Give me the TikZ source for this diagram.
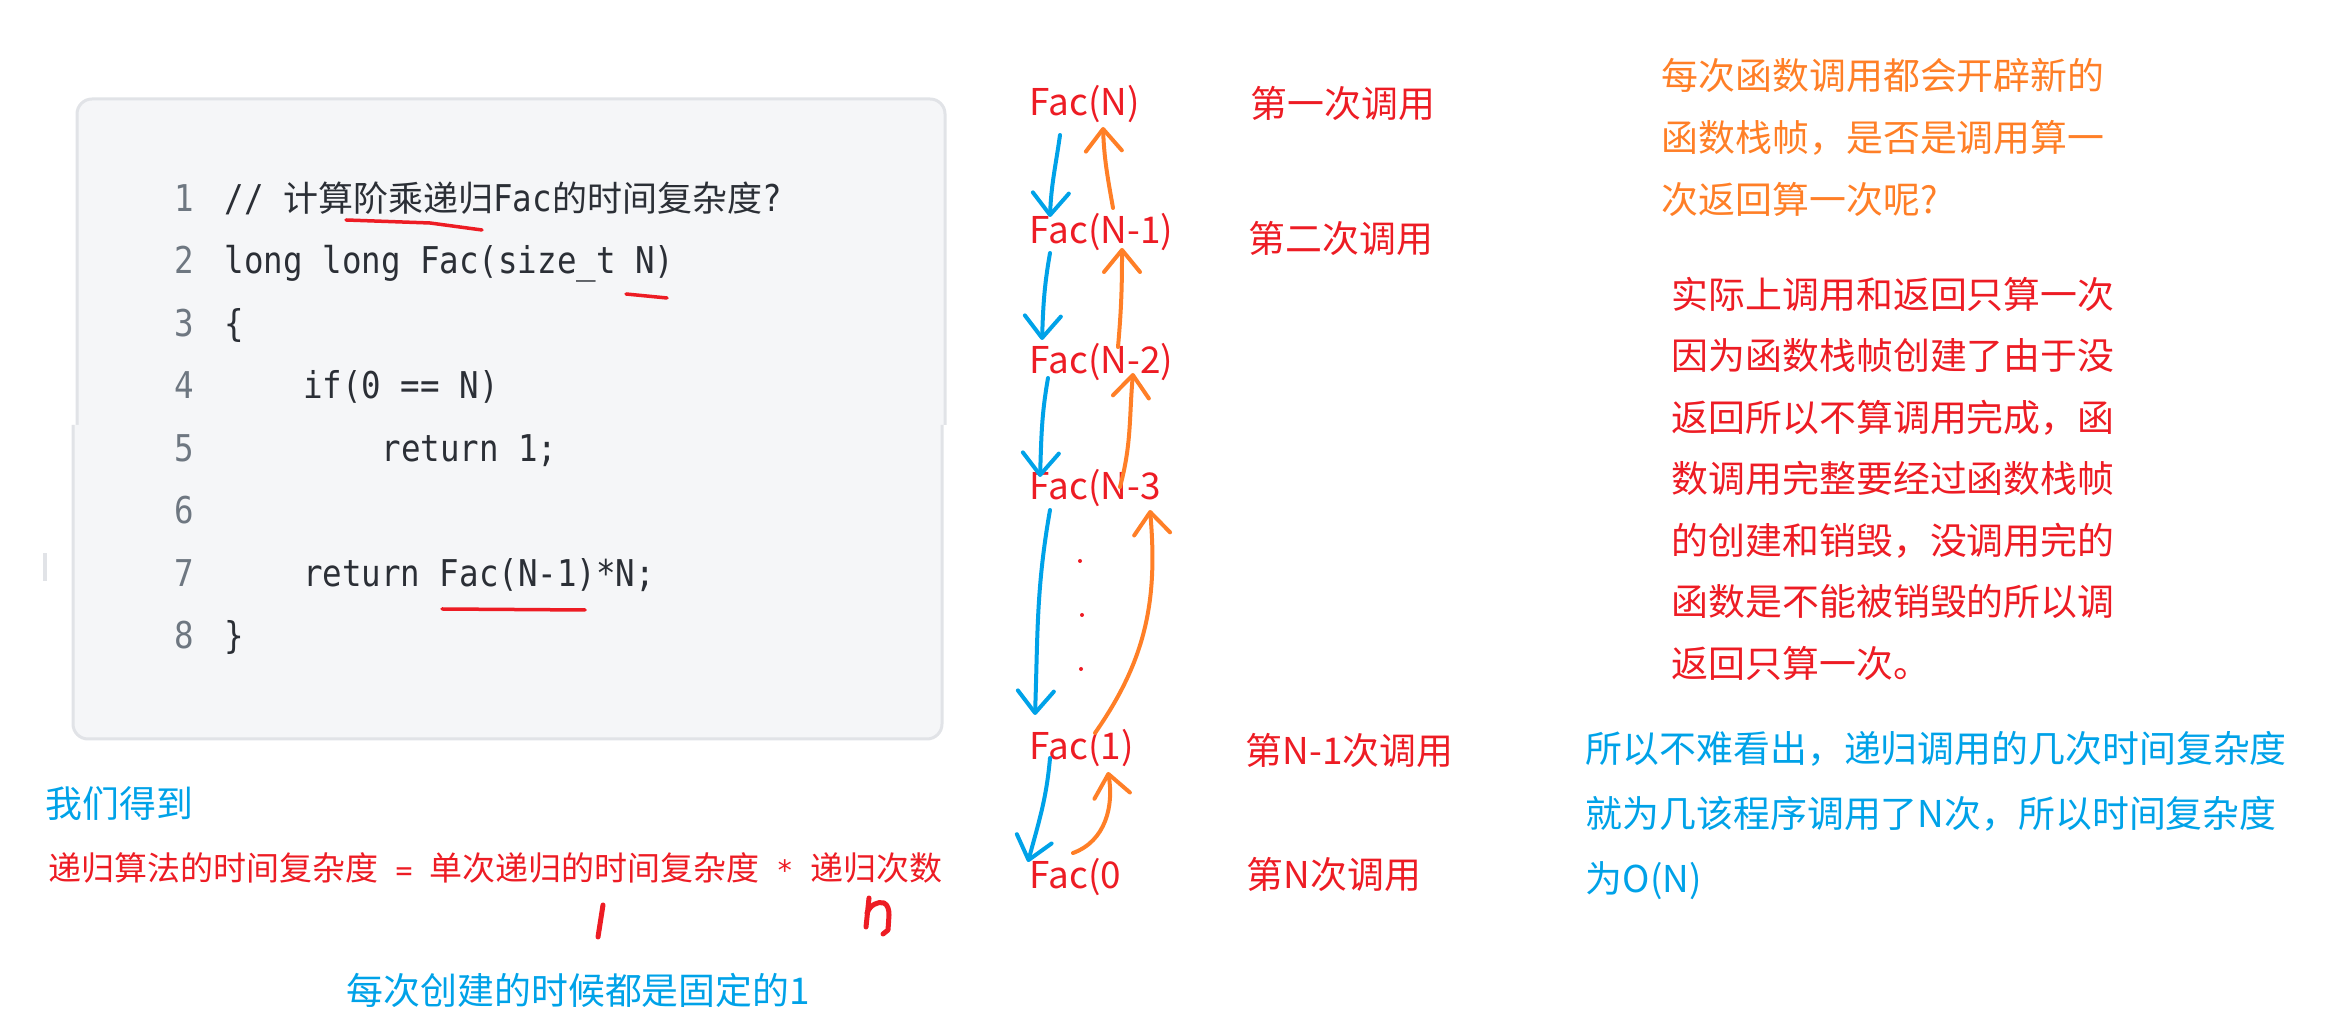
\documentclass[tikz,border=0pt]{standalone}
\usepackage{fontspec}
\usetikzlibrary{arrows.meta}
\newfontfamily\cjk{Noto Sans CJK SC}
\newfontfamily\codefont[FakeStretch=0.88]{DejaVu Sans Mono}
\newfontfamily\monofont{DejaVu Sans Mono}
\definecolor{inkred}{HTML}{ED1C24}
\definecolor{inkorange}{HTML}{FF7F27}
\definecolor{inkblue}{HTML}{00A2E8}
\definecolor{boxfill}{HTML}{F5F6F8}
\definecolor{boxline}{HTML}{E1E3E7}
\definecolor{codeink}{HTML}{2B2F36}
\definecolor{numink}{HTML}{6E7781}
\newcommand{\codecjk}[1]{{\cjk\fontsize{9.96}{12}\selectfont #1}}
\newcommand{\monop}[1]{{\monofont\fontsize{8}{12}\selectfont\ #1\ }}
\begin{document}
\begin{tikzpicture}[x=0.1mm,y=0.1mm,
  lbl/.style={inner sep=0,anchor=west,text=inkred,font=\cjk\fontsize{10.5}{12}\selectfont},
  codeline/.style={inner sep=0,anchor=base west,text=codeink,font=\codefont\fontsize{10.5}{12}\selectfont},
  lineno/.style={inner sep=0,anchor=base,text=numink,font=\codefont\fontsize{10.5}{12}\selectfont},
  note/.style={inner sep=0,anchor=west,align=left},
  callarrow/.style={line width=0.4mm,line cap=round,line join=round,-{Straight Barb[length=2.2mm,width=3.6mm,round]}},
  godown/.style={callarrow,inkblue},
  goup/.style={callarrow,inkorange},
  penline/.style={inkred,line width=0.35mm,line cap=round,line join=round}]
  \useasboundingbox (0,0) rectangle (2334,1027);
  \fill[boxfill] (77,602) -- (77,913) arc[start angle=180,end angle=90,radius=15] -- (930,928) arc[start angle=90,end angle=0,radius=15] -- (945,602) -- cycle;
  \draw[boxline,line width=0.3mm] (77,602) -- (77,913) arc[start angle=180,end angle=90,radius=15] -- (930,928) arc[start angle=90,end angle=0,radius=15] -- (945,602);
  \fill[boxfill] (73,602) -- (73,303) arc[start angle=180,end angle=270,radius=15] -- (927,288) arc[start angle=270,end angle=360,radius=15] -- (942,602) -- cycle;
  \draw[boxline,line width=0.3mm] (73,602) -- (73,303) arc[start angle=180,end angle=270,radius=15] -- (927,288) arc[start angle=270,end angle=360,radius=15] -- (942,602);
  \fill[boxline] (43,446) rectangle (47,474);
  \foreach \n in {1,...,8}
    \node[lineno] (n\n) at (184,{878-62.5*\n}) {\n};
  \node[codeline] (c1) at (224,815.5) {// \codecjk{计算阶乘递归}Fac\codecjk{的时间复杂度}?};
  \node[codeline] (c2) at (224,753) {long long Fac(size\_t N)};
  \node[codeline] (c3) at (224,690.5) {\{};
  \node[codeline] (c4) at (302.4,628) {if(0 == N)};
  \node[codeline] (c5) at (380.8,565.5) {return 1;};
  \node[codeline] (c7) at (302.4,440.5) {return Fac(N-1)*N;};
  \node[codeline] (c8) at (224,378) {\}};
  \draw[penline] (346,807) -- (430,804) -- (482,797);
  \draw[penline] (626,733) -- (667,729);
  \draw[penline] (442,418) -- (585,417);
  \node[lbl] (fN) at (1029,923) {Fac(N)};
  \node[lbl] (fN1) at (1029,795) {Fac(N-1)};
  \node[lbl] (fN2) at (1029,665) {Fac(N-2)};
  \node[lbl] (fN3) at (1029,539) {Fac(N-3};
  \node[lbl] (f1) at (1029,279) {Fac(1)};
  \node[lbl] (f0) at (1029,150) {Fac(0};
  \node[lbl] (call1) at (1250,924) {第一次调用};
  \node[lbl] (call2) at (1248,789) {第二次调用};
  \node[lbl] (callN1) at (1245,277) {第N-1次调用};
  \node[lbl] (callN) at (1246,153) {第N次调用};
  \fill[inkred] (1080,466) circle[radius=2];
  \fill[inkred] (1082,412) circle[radius=2];
  \fill[inkred] (1081,358) circle[radius=2];
  \draw[godown] ([shift={(31,-31)}]fN.west) to[out=-98,in=88] ([shift={(21,15)}]fN1.west);
  \draw[godown] ([shift={(21,-21)}]fN1.west) to[out=-100,in=88] ([shift={(13,22)}]fN2.west);
  \draw[godown] ([shift={(19,-16)}]fN2.west) to[out=-100,in=88] ([shift={(11,11)}]fN3.west);
  \draw[godown] ([shift={(21,-22)}]fN3.west) to[out=-100,in=88] ([shift={(6,33)}]f1.west);
  \draw[godown] ([shift={(21,-10)}]f1.west) to[out=-95,in=75] ([shift={(-1,15)}]f0.west);
  \draw[goup] ([shift={(84,24)}]fN1.west) to[out=100,in=-88] ([shift={(74,-23)}]fN.west);
  \draw[goup] ([shift={(89,15)}]fN2.west) to[out=85,in=-90] ([shift={(93,-16)}]fN1.west);
  \draw[goup] ([shift={(91,1)}]fN3.west) to[out=75,in=-95] ([shift={(104,-11)}]fN2.west);
  \draw[goup] ([shift={(66,15)}]f1.west) to[out=55,in=-85] ([shift={(121,-22)}]fN3.west);
  \draw[goup] ([shift={(44,24)}]f0.west) to[out=20,in=-80] ([shift={(79,-24)}]f1.west);
  \node[note,text=inkorange,font=\cjk\fontsize{10.5}{17.6}\selectfont] (ask) at (1661,889.5) {每次函数调用都会开辟新的\\函数栈帧，是否是调用算一\\次返回算一次呢?};
  \node[note,text=inkred,font=\cjk\fontsize{10.5}{17.5}\selectfont] (answer) at (1671,548.5) {实际上调用和返回只算一次\\因为函数栈帧创建了由于没\\返回所以不算调用完成，函\\数调用完整要经过函数栈帧\\的创建和销毁，没调用完的\\函数是不能被销毁的所以调\\返回只算一次。};
  \node[note,text=inkblue,font=\cjk\fontsize{10.5}{18.6}\selectfont] (sum) at (1585,211.5) {所以不难看出，递归调用的几次时间复杂度\\就为几该程序调用了N次，所以时间复杂度\\为O(N)};
  \node[note,text=inkblue,font=\cjk\fontsize{10.5}{12}\selectfont] (got) at (45,223) {我们得到};
  \node[note,text=inkred,font=\cjk\fontsize{9.39}{12}\selectfont] (formula) at (48,159) {递归算法的时间复杂度\monop{=}单次递归的时间复杂度\monop{*}递归次数};
  \node[note,text=inkblue,font=\cjk\fontsize{10.5}{12}\selectfont] (fixed) at (346,37) {每次创建的时候都是固定的1};
  \draw[penline,line width=0.5mm] (603,122) -- (598,90);
  \draw[penline,line width=0.5mm] (869,129) -- (866,100);
  \draw[penline,line width=0.5mm] (867,114) .. controls (870,122) and (878,126) .. (884,124) .. controls (888,122) and (889,117) .. (889,112) -- (888,97) -- (883,93);
\end{tikzpicture}
\end{document}
